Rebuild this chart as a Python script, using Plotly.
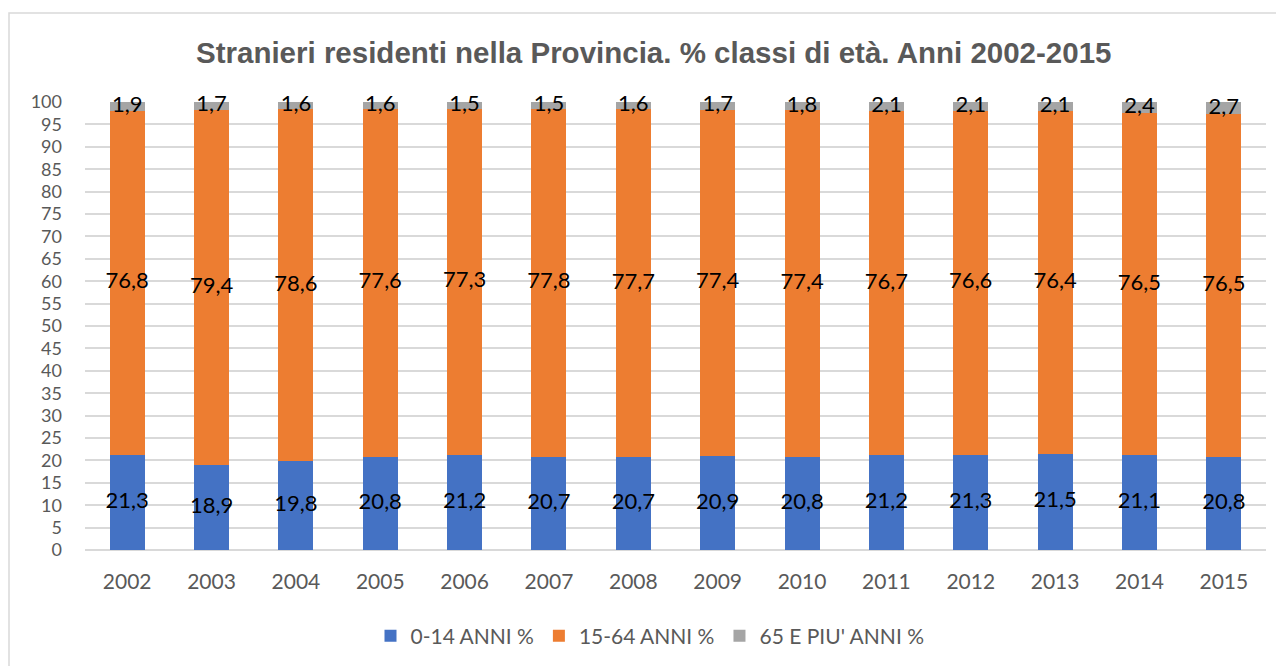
import plotly.graph_objects as go

years = ["2002", "2003", "2004", "2005", "2006", "2007", "2008",
         "2009", "2010", "2011", "2012", "2013", "2014", "2015"]
age_0_14 = [21.3, 18.9, 19.8, 20.8, 21.2, 20.7, 20.7, 20.9, 20.8, 21.2, 21.3, 21.5, 21.1, 20.8]
age_15_64 = [76.8, 79.4, 78.6, 77.6, 77.3, 77.8, 77.7, 77.4, 77.4, 76.7, 76.6, 76.4, 76.5, 76.5]
age_65_plus = [1.9, 1.7, 1.6, 1.6, 1.5, 1.5, 1.6, 1.7, 1.8, 2.1, 2.1, 2.1, 2.4, 2.7]
series_names = ["0-14 ANNI %", "15-64 ANNI %", "65 E PIU' ANNI %"]
series_colors = ["#4472C4", "#ED7D31", "#A5A5A5"]
y_ticks = list(range(0, 101, 5))

LABEL_FONT = "Lato"

def fmt(v):
    return f"{v:.1f}".replace(".", ",")

series = [age_0_14, age_15_64, age_65_plus]

fig = go.Figure()
for name, vals, col in zip(series_names, series, series_colors):
    fig.add_trace(go.Bar(
        x=years, y=vals, name=name,
        marker=dict(color=col, line=dict(width=0)),
        hoverinfo="skip",
    ))

# data labels centred on each stacked segment
base = [0.0] * len(years)
for vals in series:
    centers = [b + v / 2 for b, v in zip(base, vals)]
    fig.add_trace(go.Scatter(
        x=years, y=centers, mode="text",
        text=[fmt(v) for v in vals],
        textposition="middle center",
        textfont=dict(family=LABEL_FONT, size=22, color="#000000"),
        showlegend=False, hoverinfo="skip", cliponaxis=False,
    ))
    base = [b + v for b, v in zip(base, vals)]

# page offset (body margin) of 8px
OFF = 8
W, H = 1284 - OFF, 666 - OFF
# plot area in reference page coords: x 85..1266, y 102..550
L, R, T, B = 85 - OFF, 1266 - OFF, 102 - OFF, 550 - OFF
pw, ph = R - L, B - T

def px(x):
    return (x - OFF - L) / pw

def py(y):
    return (B - (y - OFF)) / ph

fig.update_layout(
    width=W, height=H,
    margin=dict(l=L, r=W - R, t=T, b=H - B, autoexpand=False),
    barmode="stack",
    bargap=0.585,
    plot_bgcolor="#FFFFFF",
    paper_bgcolor="#FFFFFF",
    showlegend=True,
    legend=dict(
        orientation="h",
        x=px(650), xanchor="center",
        y=py(636), yanchor="middle",
        font=dict(family=LABEL_FONT, size=21, color="#595959"),
        itemsizing="constant",
        itemwidth=30,
        traceorder="normal",
        bgcolor="rgba(0,0,0,0)",
    ),
    annotations=[dict(
        text="<b>Stranieri residenti nella Provincia. % classi di età. Anni 2002-2015</b>",
        xref="paper", yref="paper",
        x=px(653), y=py(52), xanchor="center", yanchor="middle",
        showarrow=False,
        font=dict(family="Liberation Sans", size=29.5, color="#595959"),
    )],
    shapes=[dict(
        type="rect", xref="paper", yref="paper",
        x0=px(9), x1=px(1300), y0=py(690), y1=py(13),
        line=dict(color="#D9D9D9", width=1.5),
        fillcolor="rgba(0,0,0,0)", layer="below",
    )],
)

fig.update_xaxes(
    type="category",
    range=[-0.5, len(years) - 0.5],
    showgrid=False, showline=False, zeroline=False,
    ticks="", ticklabelstandoff=17,
    tickfont=dict(family=LABEL_FONT, size=21, color="#595959"),
)
fig.update_yaxes(
    range=[0, 100],
    tickvals=y_ticks,
    ticktext=[str(v) for v in y_ticks],
    showgrid=True, gridcolor="#D9D9D9", gridwidth=1.5,
    zeroline=True, zerolinecolor="#D9D9D9", zerolinewidth=1.5,
    showline=False, ticks="", ticklabelstandoff=22,
    tickfont=dict(family=LABEL_FONT, size=18, color="#595959"),
)

fig.write_html("out.html")
